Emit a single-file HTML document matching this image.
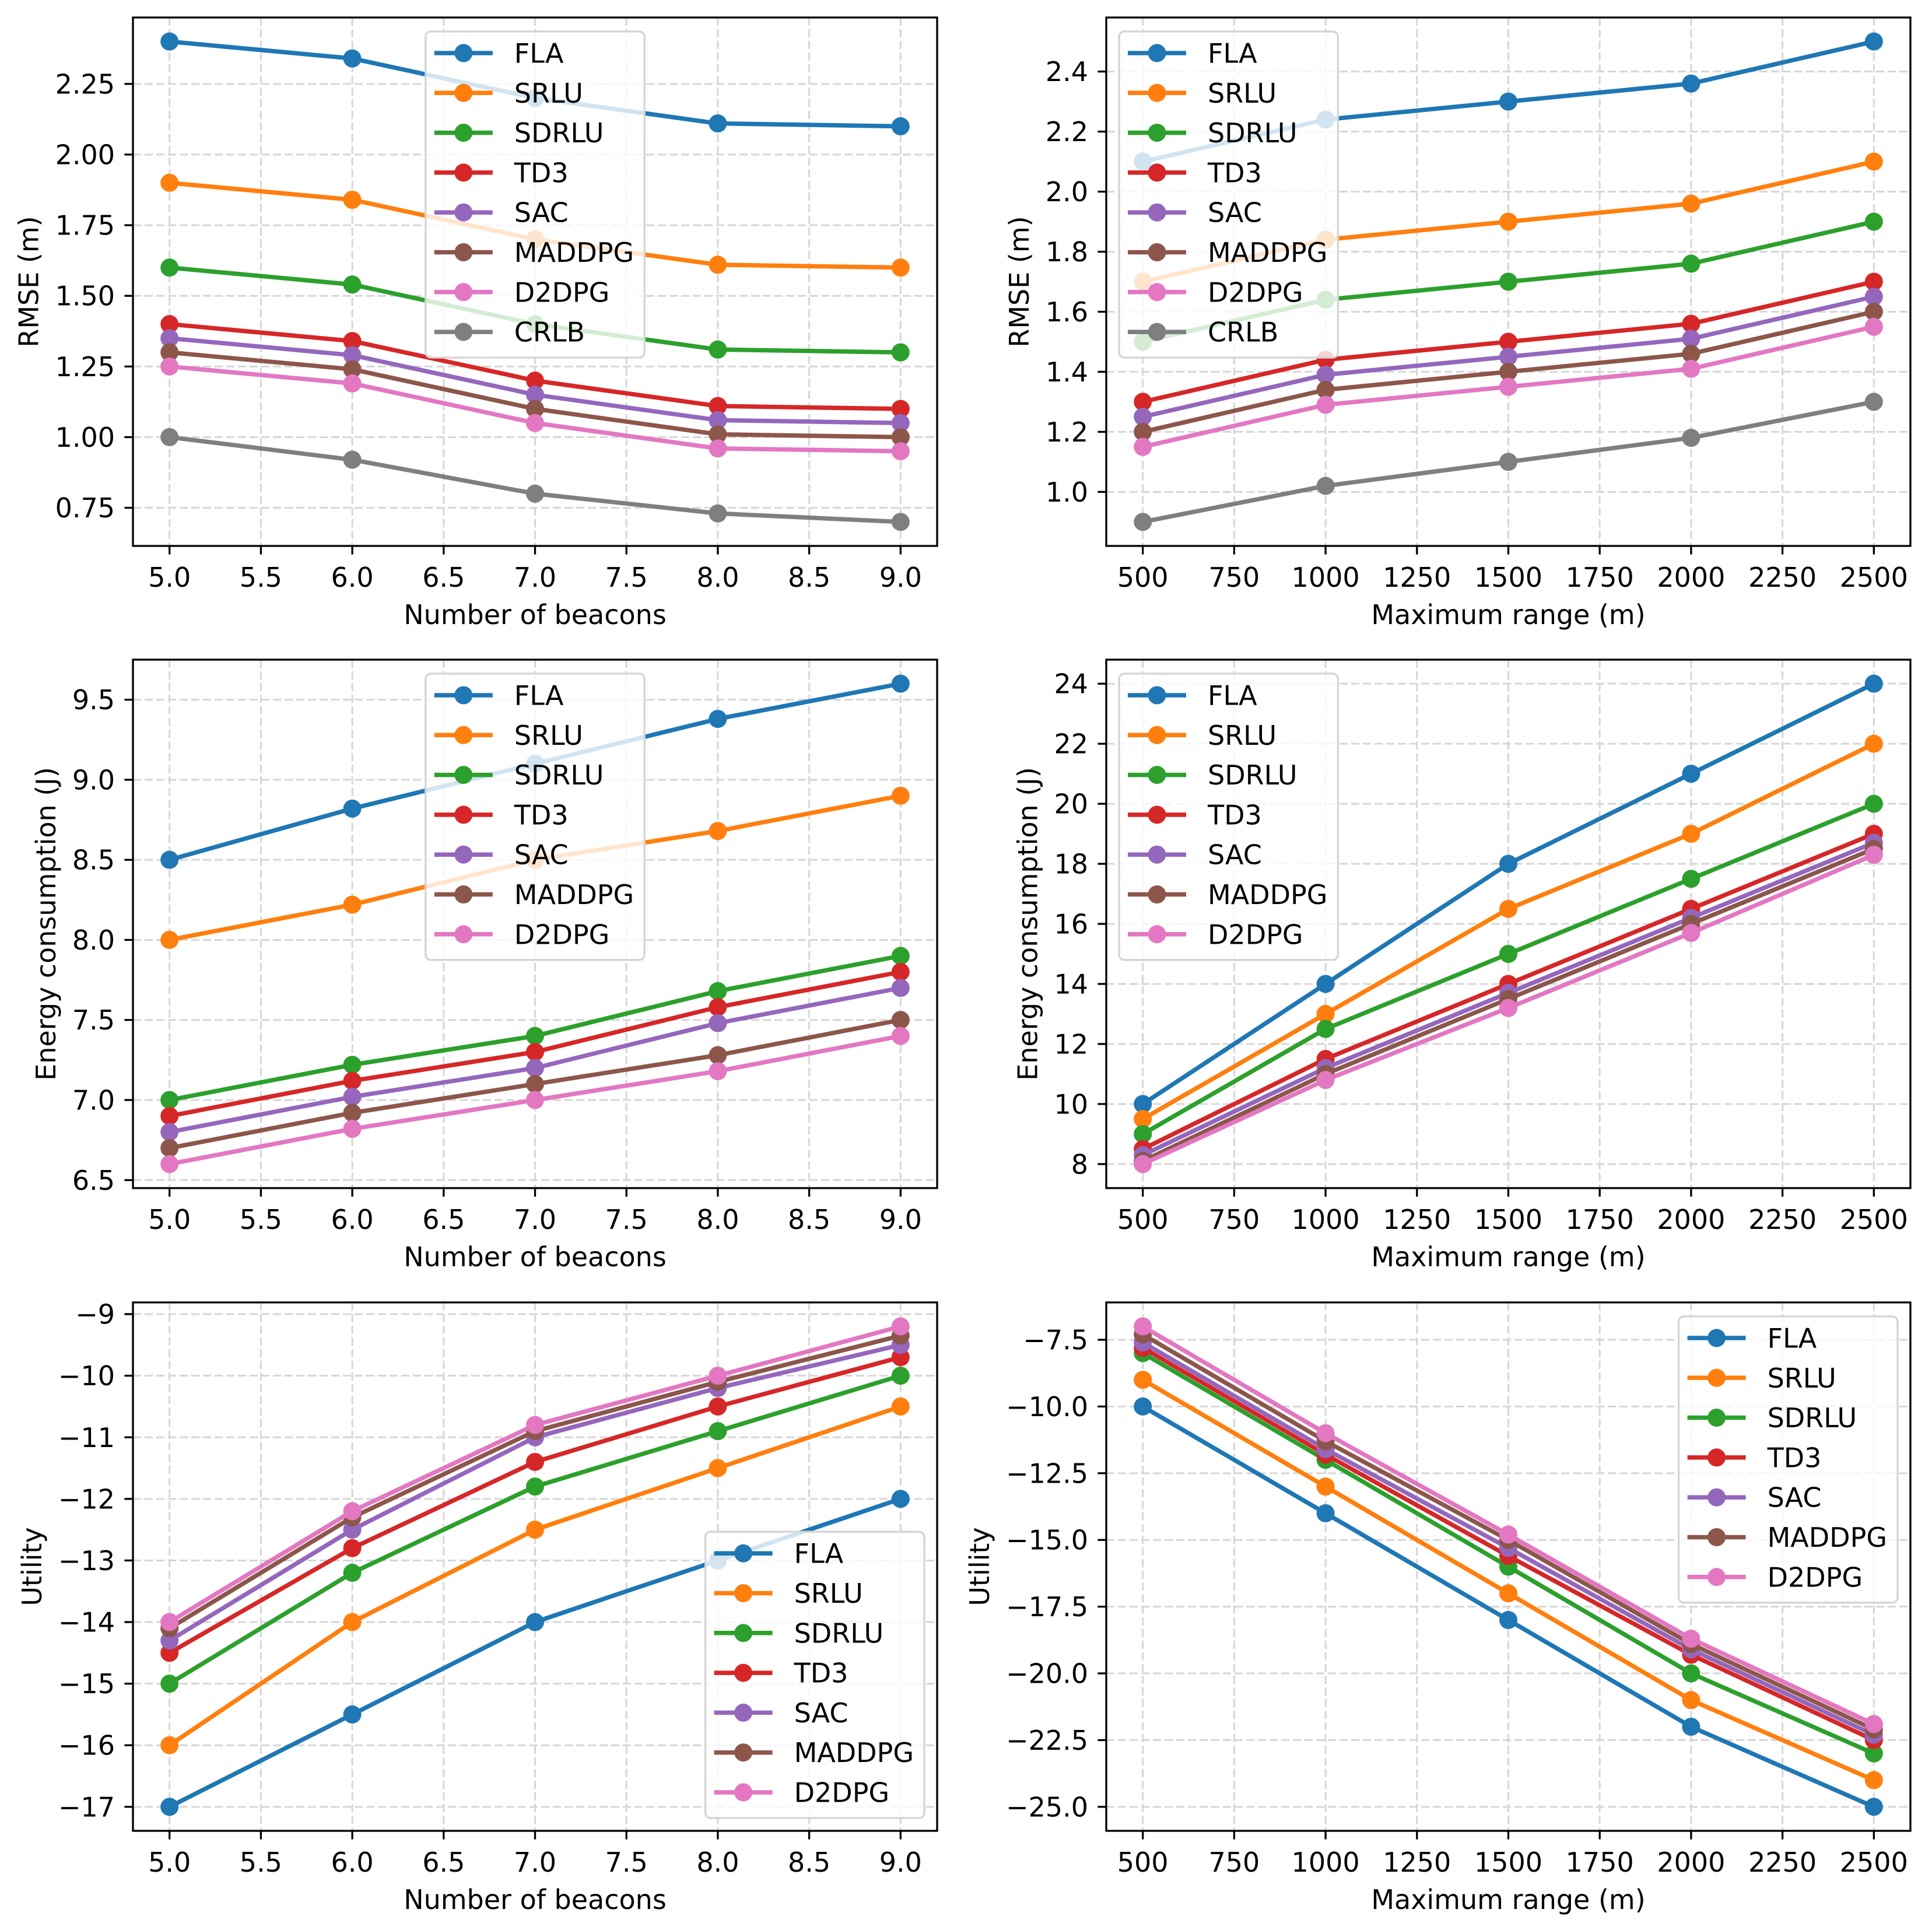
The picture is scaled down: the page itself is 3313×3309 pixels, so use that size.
<!DOCTYPE html>
<html><head><meta charset="utf-8">
<style>
html,body{margin:0;padding:0;background:#fff;}
svg{display:block;font-family:"DejaVu Sans","Liberation Sans",sans-serif;}
</style></head>
<body>
<svg id="fig" width="3313" height="3309" viewBox="0 0 3313 3309" xmlns="http://www.w3.org/2000/svg"></svg>
<script>
const seriesNames = ["FLA","SRLU","SDRLU","TD3","SAC","MADDPG","D2DPG","CRLB"];
const colors = ["#1f77b4","#ff7f0e","#2ca02c","#d62728","#9467bd","#8c564b","#e377c2","#7f7f7f"];
const beacons = [5,6,7,8,9];
const ranges = [500,1000,1500,2000,2500];
const beaconTicks = [5.0,5.5,6.0,6.5,7.0,7.5,8.0,8.5,9.0];
const rangeTicks = [500,750,1000,1250,1500,1750,2000,2250,2500];

const rmseBeacons = [
  [2.4,2.34,2.2,2.11,2.1],
  [1.9,1.84,1.7,1.61,1.6],
  [1.6,1.54,1.4,1.31,1.3],
  [1.4,1.34,1.2,1.11,1.1],
  [1.35,1.29,1.15,1.06,1.05],
  [1.3,1.24,1.1,1.01,1.0],
  [1.25,1.19,1.05,0.96,0.95],
  [1.0,0.92,0.8,0.73,0.7]
];
const rmseRange = [
  [2.1,2.24,2.3,2.36,2.5],
  [1.7,1.84,1.9,1.96,2.1],
  [1.5,1.64,1.7,1.76,1.9],
  [1.3,1.44,1.5,1.56,1.7],
  [1.25,1.39,1.45,1.51,1.65],
  [1.2,1.34,1.4,1.46,1.6],
  [1.15,1.29,1.35,1.41,1.55],
  [0.9,1.02,1.1,1.18,1.3]
];
const energyBeacons = [
  [8.5,8.82,9.1,9.38,9.6],
  [8.0,8.22,8.5,8.68,8.9],
  [7.0,7.22,7.4,7.68,7.9],
  [6.9,7.12,7.3,7.58,7.8],
  [6.8,7.02,7.2,7.48,7.7],
  [6.7,6.92,7.1,7.28,7.5],
  [6.6,6.82,7.0,7.18,7.4]
];
const energyRange = [
  [10,14,18,21,24],
  [9.5,13,16.5,19,22],
  [9,12.5,15,17.5,20],
  [8.5,11.5,14,16.5,19],
  [8.3,11.2,13.7,16.2,18.7],
  [8.1,11,13.5,16,18.5],
  [8.0,10.8,13.2,15.7,18.3]
];
const utilityBeacons = [
  [-17,-15.5,-14,-13,-12],
  [-16,-14,-12.5,-11.5,-10.5],
  [-15,-13.2,-11.8,-10.9,-10],
  [-14.5,-12.8,-11.4,-10.5,-9.7],
  [-14.3,-12.5,-11,-10.2,-9.5],
  [-14.1,-12.3,-10.9,-10.1,-9.35],
  [-14,-12.2,-10.8,-10,-9.2]
];
const utilityRange = [
  [-10,-14,-18,-22,-25],
  [-9,-13,-17,-21,-24],
  [-8,-12,-16,-20,-23],
  [-7.8,-11.8,-15.6,-19.3,-22.5],
  [-7.6,-11.6,-15.3,-19.1,-22.3],
  [-7.3,-11.3,-15.0,-18.9,-22.1],
  [-7.0,-11.0,-14.8,-18.7,-21.9]
];
const rmseTicks1 = [0.75,1.0,1.25,1.5,1.75,2.0,2.25];
const rmseTicks2 = [1.0,1.2,1.4,1.6,1.8,2.0,2.2,2.4];
const energyTicks1 = [6.5,7.0,7.5,8.0,8.5,9.0,9.5];
const energyTicks2 = [8,10,12,14,16,18,20,22,24];
const utilTicks1 = [-17,-16,-15,-14,-13,-12,-11,-10,-9];
const utilTicks2 = [-25,-22.5,-20,-17.5,-15,-12.5,-10,-7.5];

const NS = "http://www.w3.org/2000/svg";
const fig = document.getElementById("fig");
const FS = 46;
const LW = 7.5, MR = 15.5;
function mk(tag, attrs, parent){
  const e = document.createElementNS(NS, tag);
  for (const k in attrs) e.setAttribute(k, attrs[k]);
  (parent||fig).appendChild(e);
  return e;
}
function fmt(v, d){ const s = v.toFixed(d); return s.replace("-", "\u2212"); }

function plot(o){
  const L=o.left, T=o.top, W=1379, H=906;
  const g = mk("g", {});
  
  
  const xs = o.x, xmin=Math.min(...xs), xmax=Math.max(...xs), xm=(xmax-xmin)*0.05;
  let all=[]; o.data.forEach(s=>all=all.concat(s));
  const ymin=Math.min(...all), ymax=Math.max(...all), ym=(ymax-ymin)*0.05;
  const X = v => L + (v-(xmin-xm))/((xmax+xm)-(xmin-xm))*W;
  const Y = v => T + H - (v-(ymin-ym))/((ymax+ym)-(ymin-ym))*H;
  const grid = mk("g", {}, g);
  
  
  o.xticks.forEach(t=>mk("line",{x1:X(t),x2:X(t),y1:T,y2:T+H,stroke:"#d6d6d6","stroke-width":3,"stroke-dasharray":"14 6"},grid));
  o.yticks.forEach(t=>mk("line",{x1:L,x2:L+W,y1:Y(t),y2:Y(t),stroke:"#d6d6d6","stroke-width":3,"stroke-dasharray":"14 6"},grid));
  o.data.forEach((s,i)=>{
    const sg = mk("g", {}, g);
    
    
    const pts = s.map((v,j)=>X(xs[j])+","+Y(v)).join(" ");
    const pl = mk("polyline",{points:pts,fill:"none",stroke:colors[i],"stroke-width":LW,"stroke-linejoin":"round","stroke-linecap":"square"},sg);
    
    
    s.forEach((v,j)=>{
      const c = mk("circle",{cx:X(xs[j]),cy:Y(v),r:MR,fill:colors[i]},sg);
      
      
    });
  });
  const fr = mk("rect",{x:L,y:T,width:W,height:H,fill:"none",stroke:"#000","stroke-width":3.3},g);
  
  
  const xt = mk("g", {}, g);
  
  
  o.xticks.forEach(t=>{
    mk("line",{x1:X(t),x2:X(t),y1:T+H,y2:T+H+14.6,stroke:"#000","stroke-width":3.3},xt);
    const tx = mk("text",{x:X(t),y:T+H+70,"font-size":FS,"text-anchor":"middle",fill:"#000"},xt);
    tx.textContent = fmt(t,o.xd);
    
    
  });
  const yt = mk("g", {}, g);
  
  
  let maxW = 0;
  o.yticks.forEach(t=>{
    mk("line",{x1:L-14.6,x2:L,y1:Y(t),y2:Y(t),stroke:"#000","stroke-width":3.3},yt);
    const tx = mk("text",{x:L-31,y:Y(t)+16.5,"font-size":FS,"text-anchor":"end",fill:"#000"},yt);
    tx.textContent = fmt(t,o.yd);
    
    
    maxW = Math.max(maxW, tx.getComputedTextLength());
  });
  const xl = mk("text",{x:L+W/2,y:T+H+134,"font-size":FS,"text-anchor":"middle",fill:"#000"},g);
  xl.textContent = o.xlabel;
  
  
  const bx = L-31-maxW-29;
  const yl = mk("text",{x:bx,y:T+H/2,"font-size":FS,"text-anchor":"middle",fill:"#000",transform:`rotate(-90 ${bx} ${T+H/2})`},g);
  yl.textContent = o.ylabel;
  
  
  const n = o.data.length;
  const lg = mk("g", {}, g);
  
  
  const box = mk("rect",{rx:9,ry:9,fill:"#fff","fill-opacity":0.8,stroke:"#d4d4d4","stroke-width":3.3},lg);
  let tw = 0; const texts=[];
  for(let i=0;i<n;i++){
    const t = mk("text",{"font-size":FS,fill:"#000"},lg);
    t.textContent = seriesNames[i];
    tw = Math.max(tw, t.getComputedTextLength());
    texts.push(t);
  }
  const lw = 152 + tw + 18, lh = 37 + (n-1)*68.3 + 44;
  let lx, ly;
  if (o.loc==="uc"){ lx = L+W/2-lw/2; ly = T+24; }
  else if (o.loc==="ul"){ lx = L+22; ly = T+24; }
  else if (o.loc==="ur"){ lx = L+W-22-lw; ly = T+24; }
  else { lx = L+W-22-lw; ly = T+H-22-lh; }
  box.setAttribute("x",lx); box.setAttribute("y",ly); box.setAttribute("width",lw); box.setAttribute("height",lh);
  for(let i=0;i<n;i++){
    const cy = ly+37+i*68.3;
    const e = mk("g", {}, lg);
    
    
    mk("line",{x1:lx+15,x2:lx+115,y1:cy,y2:cy,stroke:colors[i],"stroke-width":LW},e);
    mk("circle",{cx:lx+65,cy:cy,r:MR,fill:colors[i]},e);
    texts[i].setAttribute("x",lx+152); texts[i].setAttribute("y",cy+16.5);
    e.appendChild(texts[i]);
  }
}
const C1=228, C2=1897, R1=30, R2=1131, R3=2233;
plot({name:"rmse-vs-beacons-chart",left:C1,top:R1,x:beacons,data:rmseBeacons,xticks:beaconTicks,yticks:rmseTicks1,xd:1,yd:2,xlabel:"Number of beacons",ylabel:"RMSE (m)",loc:"uc"});
plot({name:"rmse-vs-range-chart",left:C2,top:R1,x:ranges,data:rmseRange,xticks:rangeTicks,yticks:rmseTicks2,xd:0,yd:1,xlabel:"Maximum range (m)",ylabel:"RMSE (m)",loc:"ul"});
plot({name:"energy-vs-beacons-chart",left:C1,top:R2,x:beacons,data:energyBeacons,xticks:beaconTicks,yticks:energyTicks1,xd:1,yd:1,xlabel:"Number of beacons",ylabel:"Energy consumption (J)",loc:"uc"});
plot({name:"energy-vs-range-chart",left:C2,top:R2,x:ranges,data:energyRange,xticks:rangeTicks,yticks:energyTicks2,xd:0,yd:0,xlabel:"Maximum range (m)",ylabel:"Energy consumption (J)",loc:"ul"});
plot({name:"utility-vs-beacons-chart",left:C1,top:R3,x:beacons,data:utilityBeacons,xticks:beaconTicks,yticks:utilTicks1,xd:1,yd:0,xlabel:"Number of beacons",ylabel:"Utility",loc:"lr"});
plot({name:"utility-vs-range-chart",left:C2,top:R3,x:ranges,data:utilityRange,xticks:rangeTicks,yticks:utilTicks2,xd:0,yd:1,xlabel:"Maximum range (m)",ylabel:"Utility",loc:"ur"});
</script>
</body></html>
